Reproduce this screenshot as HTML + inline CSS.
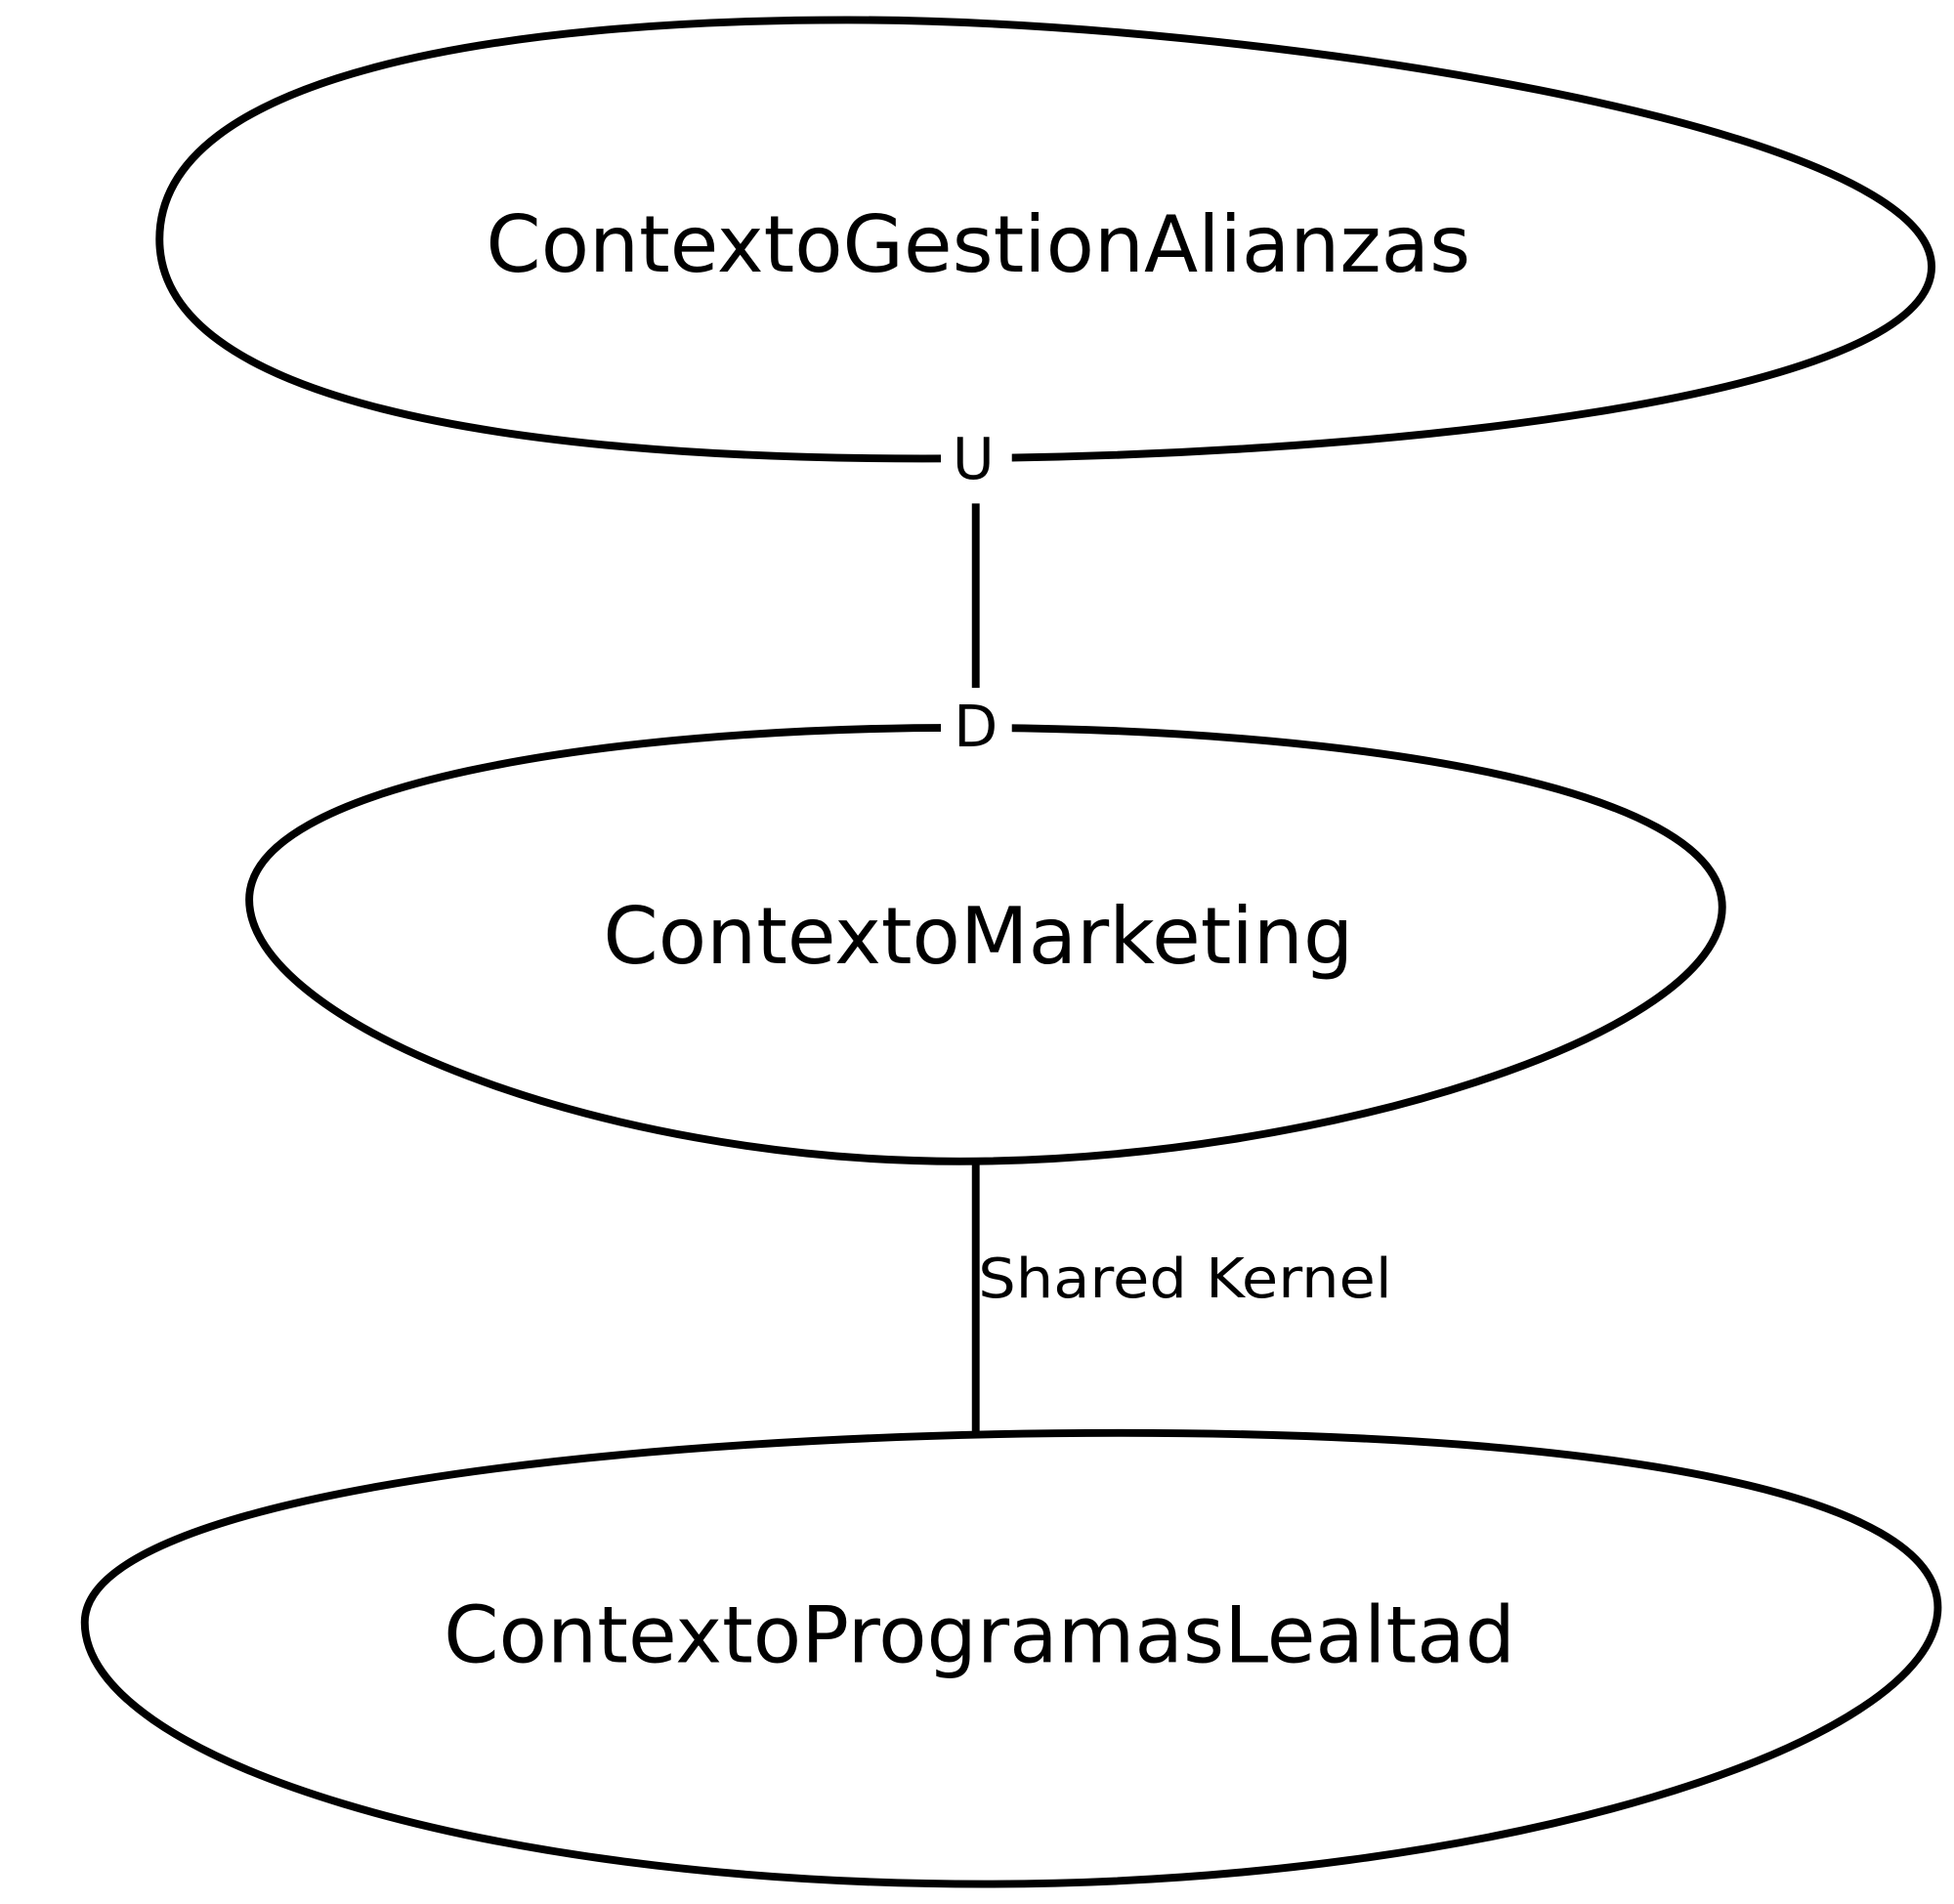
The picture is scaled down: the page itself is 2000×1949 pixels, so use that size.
<!DOCTYPE html>
<html><head><meta charset="utf-8"><style>html,body{margin:0;padding:0;background:#fff}svg{display:block}</style></head>
<body>
<svg width="2000" height="1949" viewBox="0 0 1568 1528" xmlns="http://www.w3.org/2000/svg">
<g fill="none" stroke="#000" stroke-width="6.2">
<path d="M128,192 C128,60 400,16 680,16 C1000,16 1550,100 1550,214 C1550,320 1100,368 740,368 C400,368 128,320 128,192 Z"/>
<path d="M200,722 C200,630 480,584 770,584 C1080,584 1382,630 1382,728 C1382,830 1060,932 770,932 C480,932 200,820 200,722 Z"/>
<path d="M68,1302 C68,1200 500,1150 900,1150 C1300,1150 1555,1200 1555,1290 C1555,1400 1200,1512 790,1512 C380,1512 68,1410 68,1302 Z"/>
<line x1="783" y1="404" x2="783" y2="552"/>
<line x1="783" y1="932" x2="783" y2="1150"/>
</g>
<rect x="755" y="345" width="57" height="45" fill="#fff"/>
<rect x="755" y="560" width="57" height="45" fill="#fff"/>
<g font-family="DejaVu Sans, sans-serif" fill="#000">
<text x="390" y="218" font-size="63" textLength="790" lengthAdjust="spacingAndGlyphs">ContextoGestionAlianzas</text>
<text x="484" y="773" font-size="63" textLength="602" lengthAdjust="spacingAndGlyphs">ContextoMarketing</text>
<text x="356" y="1334" font-size="63" textLength="860" lengthAdjust="spacingAndGlyphs">ContextoProgramasLealtad</text>
<text x="781" y="384" font-size="46" text-anchor="middle">U</text>
<text x="783" y="599" font-size="46" text-anchor="middle">D</text>
<text x="785" y="1041" font-size="44" textLength="332" lengthAdjust="spacingAndGlyphs">Shared Kernel</text>
</g>
</svg>
</body></html>
